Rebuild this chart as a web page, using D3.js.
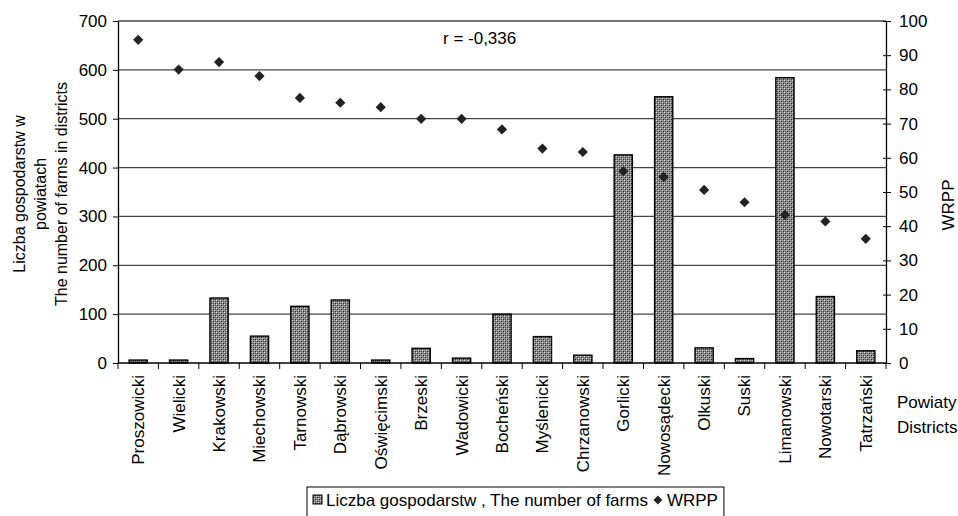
<!DOCTYPE html>
<html><head><meta charset="utf-8">
<script src="https://cdn.jsdelivr.net/npm/d3@7"></script>
<style>
body{margin:0;background:#fff;}
svg{display:block;font-family:"Liberation Sans",Arial,sans-serif;}
</style></head>
<body>
<svg id="chart" width="958" height="516"></svg>
<script>
const categories = ["Proszowicki","Wielicki","Krakowski","Miechowski","Tarnowski","Dąbrowski","Oświęcimski","Brzeski","Wadowicki","Bocheński","Myślenicki","Chrzanowski","Gorlicki","Nowosądecki","Olkuski","Suski","Limanowski","Nowotarski","Tatrzański"];
const farms = [6,6,133,55,116,129,6,30,10,100,54,16,426,545,31,9,584,136,25];
const wrpp = [94.5,85.8,88.0,83.9,77.5,76.1,74.8,71.4,71.4,68.3,62.7,61.7,56.1,54.4,50.6,47.0,43.3,41.4,36.3];
const leftTicks = [0,100,200,300,400,500,600,700];
const rightTicks = [0,10,20,30,40,50,60,70,80,90,100];
const leftTitle = ["Liczba gospodarstw w","powiatach","The number of farms in districts"];
const rightTitle = "WRPP";
const xTitle = ["Powiaty","Districts"];
const annotation = "r = -0,336";
const legendLabels = ["Liczba gospodarstw , The number of farms","WRPP"];

const FS = 17;
const L = 118, R = 886, T = 21, B = 363;
const svg = d3.select("#chart");

// pattern
const defs = svg.append("defs");
const pat = defs.append("pattern").attr("id","hatch").attr("patternUnits","userSpaceOnUse")
  .attr("width",4).attr("height",4);
pat.append("rect").attr("width",4).attr("height",4).attr("fill","#8e8e8e");
[[0,0,"#d4d4d4"],[2,2,"#d4d4d4"],[1,1,"#2e2e2e"],[3,3,"#2e2e2e"],[1,3,"#555"],[3,1,"#555"]].forEach(p=>{
  pat.append("rect").attr("x",p[0]).attr("y",p[1]).attr("width",1).attr("height",1).attr("fill",p[2]);
});

const xBand = d3.scaleBand().domain(categories).range([L,R]).padding(0);
const xBar = d3.scaleBand().domain(categories).range([L,R]).paddingInner(0.55).paddingOuter(0.275);
const yL = d3.scaleLinear().domain([0,700]).range([B,T]);
const yR = d3.scaleLinear().domain([0,100]).range([B,T]);

// gridlines
svg.append("g").selectAll("line").data(leftTicks.filter(d=>d>0)).join("line")
  .attr("x1",L).attr("x2",R).attr("y1",d=>yL(d)).attr("y2",d=>yL(d))
  .attr("stroke","#444").attr("stroke-width",1.3);

// bars
svg.append("g").selectAll("rect").data(categories).join("rect")
  .attr("x",(d)=>xBar(d)).attr("width",xBar.bandwidth())
  .attr("y",(d,i)=>yL(farms[i])).attr("height",(d,i)=>yL(0)-yL(farms[i]))
  .attr("fill","url(#hatch)").attr("stroke","#000").attr("stroke-width",1.4);

// diamonds
svg.append("g").selectAll("path").data(categories).join("path")
  .attr("d",d3.symbol().type(d3.symbolSquare).size(52))
  .attr("transform",(d,i)=>`translate(${xBand(d)+xBand.bandwidth()/2},${yR(wrpp[i])}) rotate(45)`)
  .attr("fill","#222");

// left axis
const gl = svg.append("g").attr("transform",`translate(${L},0)`)
  .call(d3.axisLeft(yL).tickValues(leftTicks).tickSize(5).tickPadding(6).tickSizeOuter(0));
gl.select(".domain").attr("stroke","#000").attr("stroke-width",1.3);
gl.selectAll("text").attr("font-size",FS).attr("fill","#000").attr("font-family","Liberation Sans, Arial, sans-serif");

// right axis
const gr = svg.append("g").attr("transform",`translate(${R},0)`)
  .call(d3.axisRight(yR).tickValues(rightTicks).tickSize(5).tickPadding(8).tickSizeOuter(0));
gr.select(".domain").attr("stroke","#000").attr("stroke-width",1.3);
gr.selectAll(".tick line").attr("x1",-3);
gr.selectAll("text").attr("font-size",FS).attr("fill","#000").attr("font-family","Liberation Sans, Arial, sans-serif");

// x axis
svg.append("line").attr("x1",L).attr("x2",R).attr("y1",B).attr("y2",B).attr("stroke","#000").attr("stroke-width",1.3);
const bounds = categories.map(d=>xBand(d)).concat([R]);
svg.append("g").selectAll("line").data(bounds).join("line")
  .attr("x1",d=>d).attr("x2",d=>d).attr("y1",B).attr("y2",B+6).attr("stroke","#000").attr("stroke-width",1);
svg.append("g").selectAll("text").data(categories).join("text")
  .attr("transform",d=>`translate(${xBand(d)+xBand.bandwidth()/2},375) rotate(-90)`)
  .attr("text-anchor","end").attr("dy","0.35em").attr("font-size",FS).text(d=>d);

// x title
svg.append("g").selectAll("text").data(xTitle).join("text")
  .attr("x",897).attr("y",(d,i)=>408+i*25).attr("font-size",FS).text(d=>d);

// left title
svg.append("g").selectAll("text").data(leftTitle).join("text")
  .attr("transform",(d,i)=>`translate(${[25,46,67][i]},194) rotate(-90)`)
  .attr("text-anchor","middle").attr("font-size",16).text(d=>d);

// right title
svg.append("text").attr("transform","translate(954,205) rotate(-90)")
  .attr("text-anchor","middle").attr("font-size",FS).text(rightTitle);

// annotation
svg.append("text").attr("x",443).attr("y",44).attr("font-size",FS).text(annotation);

// legend
const lg = svg.append("g");
const lbox = lg.append("rect").attr("y",487).attr("height",32).attr("fill","#fff").attr("stroke","#000").attr("stroke-width",1);
lg.append("rect").attr("x",313).attr("y",495).attr("width",9).attr("height",9)
  .attr("fill","url(#hatch)").attr("stroke","#000").attr("stroke-width",1);
const t1 = lg.append("text").attr("x",326).attr("y",506).attr("font-size",FS).text(legendLabels[0]);
const w1 = t1.node().getComputedTextLength();
const dx = 326 + w1 + 10;
lg.append("path").attr("d",d3.symbol().type(d3.symbolSquare).size(40))
  .attr("transform",`translate(${dx},500) rotate(45)`).attr("fill","#222");
const t2 = lg.append("text").attr("x",dx+9).attr("y",506).attr("font-size",FS).text(legendLabels[1]);
const w2 = t2.node().getComputedTextLength();
lbox.attr("x",307).attr("width",dx+9+w2+6-307);
</script>
</body></html>
